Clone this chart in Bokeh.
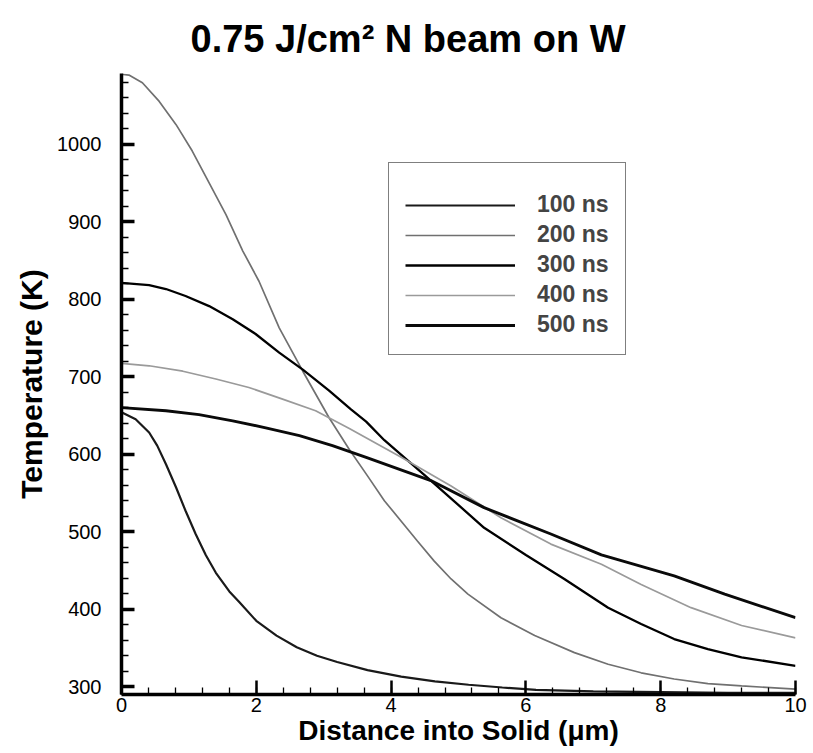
from bokeh.plotting import figure
from bokeh.models import Range1d, FixedTicker, Legend, LegendItem
from bokeh.embed import file_html
from bokeh.resources import INLINE

# ---- data ----
x_100 = [0, 0.21, 0.41, 0.53, 0.66, 0.81, 0.95, 1.10, 1.25, 1.40, 1.60, 1.75, 2.0, 2.3, 2.6, 2.9, 3.2, 3.65, 4.15, 4.65, 5.15, 5.65, 6.15, 7.0, 8.0, 9.0, 10.0]
t_100 = [654, 645, 628, 611, 587, 557, 527, 497, 470, 447, 423, 409, 385, 366, 351, 340, 332, 321.5, 313, 307, 302.6, 299, 296, 294, 293, 292, 292]

x_200 = [0, 0.11, 0.31, 0.56, 0.81, 1.05, 1.30, 1.55, 1.80, 2.04, 2.34, 2.69, 3.08, 3.38, 3.65, 3.90, 4.39, 4.64, 4.89, 5.14, 5.63, 6.13, 6.72, 7.22, 7.71, 8.20, 8.70, 9.20, 10.0]
t_200 = [1090, 1089, 1079, 1055, 1025, 991, 950, 909, 862, 823, 763, 707, 647, 606, 572, 540, 488, 462, 439, 419.5, 389, 366, 344, 329, 318, 310, 304, 301, 297]

x_300 = [0, 0.41, 0.66, 0.95, 1.30, 1.65, 1.99, 2.34, 2.69, 3.08, 3.40, 3.63, 3.90, 4.59, 5.38, 6.0, 6.57, 7.22, 7.71, 8.20, 8.70, 9.20, 10.0]
t_300 = [821, 818, 813, 804, 791, 774, 755, 731, 709, 682, 658, 642, 618, 566, 505, 470, 439, 402, 381, 361.5, 348.6, 338, 327]

x_400 = [0, 0.41, 0.91, 1.40, 1.89, 2.39, 2.88, 3.38, 4.15, 4.89, 5.63, 6.37, 7.12, 7.71, 8.45, 9.20, 10.0]
t_400 = [717, 714, 707, 697, 686, 671, 656, 633, 596, 559, 518, 484, 458, 432, 402, 379, 363]

x_500 = [0, 0.66, 1.15, 1.65, 2.14, 2.64, 3.13, 3.63, 4.59, 5.38, 6.37, 7.12, 8.2, 8.95, 10.0]
t_500 = [660, 656, 651, 643, 634, 624, 611, 596, 566, 531, 497, 470, 443, 419.5, 389]

series_labels = ["100 ns", "200 ns", "300 ns", "400 ns", "500 ns"]
x_major = [0, 2, 4, 6, 8, 10]
y_major = [300, 400, 500, 600, 700, 800, 900, 1000]

FONT = "Liberation Sans"

p = figure(width=812, height=752, output_backend="svg", toolbar_location=None,
           x_range=Range1d(0, 10), y_range=Range1d(290, 1091),
           min_border_left=121, min_border_right=17, min_border_top=73, min_border_bottom=58,
           title="0.75 J/cm\u00b2 N beam on W")

p.title.align = "left"
p.title.offset = 69
p.title.text_font = FONT
p.title.text_font_size = "38px"
p.title.text_font_style = "bold"
p.title.text_color = "black"
p.title.standoff = 28

p.grid.visible = False
p.outline_line_color = None
p.background_fill_color = None
p.border_fill_color = "white"

styles = [
    ("#1a1a1a", 2.2),
    ("#707070", 1.7),
    ("#000000", 2.3),
    ("#9a9a9a", 1.7),
    ("#0a0a0a", 2.9),
]
xs = [x_100, x_200, x_300, x_400, x_500]
ts = [t_100, t_200, t_300, t_400, t_500]
items = []
for (c, w), xv, tv, lab in zip(styles, xs, ts, series_labels):
    r = p.line(xv, tv, line_color=c, line_width=w)
    items.append(LegendItem(label=lab, renderers=[r]))

legend = Legend(items=items, location=(267, 339))
legend.title = " "
legend.title_text_font_size = "8px"
legend.title_standoff = 3
legend.padding = 16
legend.spacing = 3
legend.glyph_width = 110
legend.glyph_height = 26
legend.label_height = 26
legend.label_standoff = 22
legend.label_text_font = FONT
legend.label_text_font_style = "bold"
legend.label_text_font_size = "23px"
legend.border_line_color = "black"
legend.border_line_width = 1.5
legend.background_fill_alpha = 1.0
p.add_layout(legend)

xa = p.xaxis[0]
ya = p.yaxis[0]
xa.ticker = FixedTicker(ticks=x_major, minor_ticks=[i * 0.4 for i in range(26)])
ya.ticker = FixedTicker(ticks=y_major, minor_ticks=[300 + 20 * i for i in range(40)])
xa.axis_label = "Distance into Solid (\u03bcm)"
ya.axis_label = "Temperature (K)"

for ax in (xa, ya):
    ax.axis_line_width = 3.5
    ax.axis_line_color = "black"
    ax.major_tick_out = 0
    ax.minor_tick_out = 0
    ax.minor_tick_in = 7
    ax.minor_tick_line_width = 1.3
    ax.major_tick_line_color = "black"
    ax.minor_tick_line_color = "black"
    ax.major_label_text_font = FONT
    ax.major_label_text_font_size = "20px"
    ax.major_label_text_color = "black"
    ax.axis_label_text_font = FONT
    ax.axis_label_text_font_style = "bold"
    ax.axis_label_text_color = "black"

xa.axis_label_text_font_size = "28px"
ya.axis_label_text_font_size = "30px"
xa.major_tick_in = 14
xa.major_tick_line_width = 2.5
xa.major_label_standoff = 3
xa.axis_label_standoff = 0
ya.major_tick_in = 13
ya.major_tick_line_width = 3.5
ya.major_label_standoff = 20
ya.axis_label_standoff = 6

open("out.html", "w").write(file_html(p, INLINE))
